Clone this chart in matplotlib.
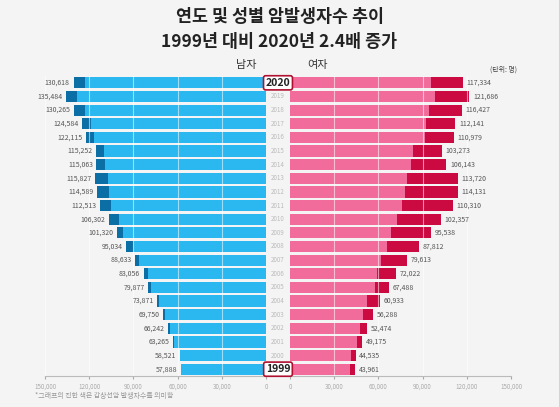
import matplotlib.pyplot as plt
from matplotlib.patches import FancyBboxPatch

plt.rcParams['font.family'] = ['Noto Sans CJK KR', 'DejaVu Sans']

years = list(range(2020, 1998, -1))
male_total = [130618, 135484, 130265, 124584, 122115, 115252, 115063, 115827, 114589, 112513,
              106302, 101320, 95034, 88633, 83056, 79877, 73871, 69750, 66242, 63265, 58521, 57888]
male_thyroid = [7500, 7500, 7500, 6000, 5500, 5600, 6000, 8600, 8000, 7500,
                6300, 4500, 4500, 2300, 2700, 1800, 1100, 1100, 900, 700, 300, 300]
female_total = [117334, 121686, 116427, 112141, 110979, 103273, 106143, 113720, 114131, 110310,
                102357, 95538, 87812, 79613, 72022, 67488, 60933, 56288, 52474, 49175, 44535, 43961]
female_thyroid = [21700, 23000, 22000, 20000, 19500, 19500, 24000, 34000, 36000, 34000,
                  30000, 27000, 22000, 18000, 13000, 10000, 9000, 7000, 5000, 4000, 3000, 3000]
ticks = [0, 30000, 60000, 90000, 120000, 150000]

W, H = 559, 407
fig = plt.figure(figsize=(W / 100, H / 100), dpi=100)
fig.patch.set_facecolor('#f4f4f4')

bot, hgt = 1 - 376 / H, 300 / H
axl = fig.add_axes([45 / W, bot, 221 / W, hgt])
axr = fig.add_axes([290 / W, bot, 221 / W, hgt])

pos = list(range(len(years)))[::-1]  # 2020 on top
grey = '#777777'

for ax, tot, dark, light, dcol, side in [
        (axl, male_total, male_thyroid, '#2bb8f0', '#0b6fa6', 'l'),
        (axr, female_total, female_thyroid, '#f26c9b', '#cc0a42', 'r')]:
    ax.set_facecolor('none')
    base = [t - d for t, d in zip(tot, dark)]
    ax.barh(pos, base, height=0.82, color=light, zorder=2)
    ax.barh(pos, dark, left=base, height=0.82, color=dcol, zorder=2)
    for t in ticks[1:]:
        ax.axvline(t, color='white', lw=0.8, alpha=0.55, zorder=3)
    for p, t in zip(pos, tot):
        ax.text(t + 2500, p, f'{t:,}', ha='right' if side == 'l' else 'left',
                va='center', fontsize=5, color='#555555', zorder=4)
    ax.set_xlim(0, 150000)
    ax.set_ylim(-0.5, len(years) - 0.5)
    if side == 'l':
        ax.invert_xaxis()
    ax.set_yticks([])
    ax.set_xticks(ticks)
    ax.set_xticklabels([f'{t:,}' for t in ticks], fontsize=4.5, color='#aaaaaa')
    ax.tick_params(axis='x', length=2, color='#aaaaaa', pad=3)
    for s in ['top', 'left', 'right']:
        ax.spines[s].set_visible(False)
    ax.spines['bottom'].set_color('#bbbbbb')

# year labels in the middle
for p, y in zip(pos, years):
    yf = bot + (p + 0.5) / len(years) * hgt
    if y in (2020, 1999):
        fig.text(278 / W, yf, str(y), ha='center', va='center', fontsize=7.5,
                 fontweight='bold', color='#222222',
                 bbox=dict(boxstyle='round,pad=0.2', fc='white', ec='#b01030', lw=1.2))
    else:
        fig.text(278 / W, yf, str(y), ha='center', va='center', fontsize=4.5, color='#bbbbbb')

fig.text(0.5, 1 - 17 / H, '연도 및 성별 암발생자수 추이', ha='center', va='center',
         fontsize=12.5, fontweight='bold', color='#222222')
fig.text(0.5, 1 - 42 / H, '1999년 대비 2020년 2.4배 증가', ha='center', va='center',
         fontsize=12.5, fontweight='bold', color='#222222')
fig.text(246 / W, 1 - 65 / H, '남자', ha='center', va='center', fontsize=8, color='#333333')
fig.text(318 / W, 1 - 65 / H, '여자', ha='center', va='center', fontsize=8, color='#333333')
fig.text(503 / W, 1 - 70 / H, '(단위: 명)', ha='center', va='center', fontsize=5, color='#444444')
fig.text(35 / W, 1 - 396 / H, '*그래프의 진한 색은 갑상선암 발생자수를 의미함', ha='left',
         va='center', fontsize=5, color='#999999')

fig.savefig('out.png', dpi=100, facecolor=fig.get_facecolor())
